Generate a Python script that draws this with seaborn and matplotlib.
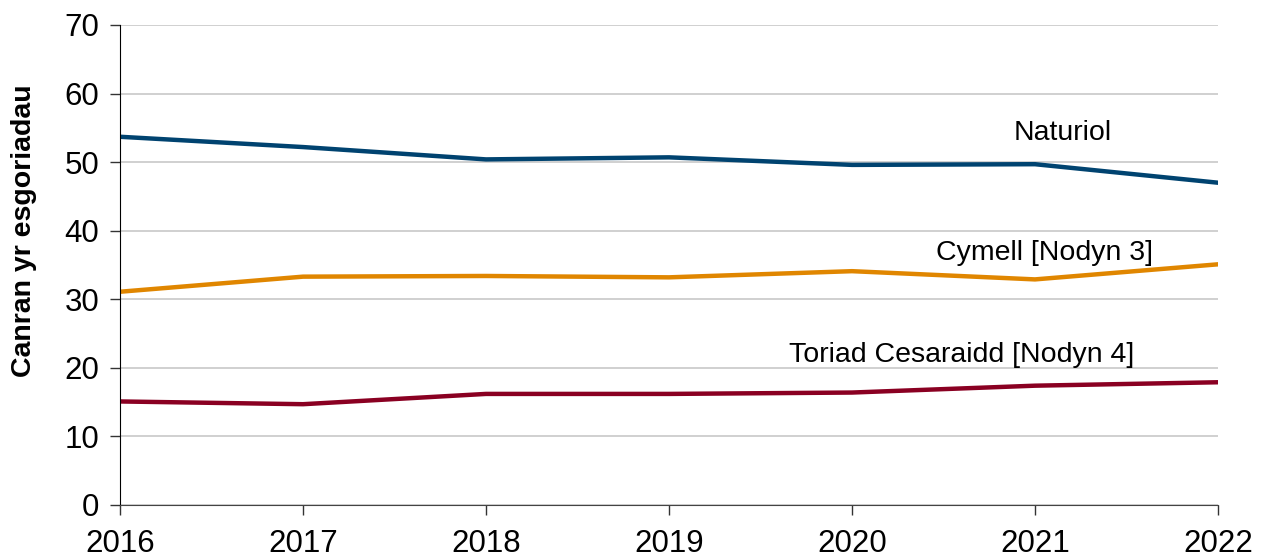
import pandas as pd
import seaborn as sns
import matplotlib.pyplot as plt

years = [2016, 2017, 2018, 2019, 2020, 2021, 2022]
naturiol = [53.7, 52.2, 50.4, 50.7, 49.6, 49.7, 47.0]
cymell = [31.1, 33.3, 33.4, 33.2, 34.1, 32.9, 35.1]
toriad = [15.1, 14.7, 16.2, 16.2, 16.4, 17.4, 17.9]
names = ["Naturiol", "Cymell [Nodyn 3]", "Toriad Cesaraidd [Nodyn 4]"]
colors = ["#004370", "#E08600", "#8A0022"]
# label positions (year, value) as placed on the original chart
label_pos = [(2021.15, 54.2), (2021.05, 36.7), (2020.6, 21.9)]

df = pd.DataFrame({
    "year": years * 3,
    "value": naturiol + cymell + toriad,
    "series": [names[0]] * 7 + [names[1]] * 7 + [names[2]] * 7,
})

sns.set_style("white")
plt.rcParams["font.family"] = ["Liberation Sans", "DejaVu Sans"]
plt.rcParams["text.color"] = "black"

fig = plt.figure(figsize=(12.65, 5.57), dpi=100)
ax = fig.add_axes([120 / 1265, 1 - 505 / 557, 1098 / 1265, 480 / 557])

sns.lineplot(data=df, x="year", y="value", hue="series", palette=colors,
             linewidth=3.2, legend=False, ax=ax)

for name, (x, y) in zip(names, label_pos):
    ax.text(x, y, name, fontsize=20.5, ha="center", va="center", color="black")

ax.set_xlim(2016, 2022)
ax.set_ylim(0, 70)
ax.set_xticks(years)
ax.set_yticks(range(0, 71, 10))
ax.yaxis.grid(True, color="#c8c8c8", linewidth=1.2)
ax.set_axisbelow(True)
ax.tick_params(axis="both", labelsize=22.5, length=7, width=1, color="#333333",
               labelcolor="black", direction="out", left=True, bottom=True)
ax.tick_params(axis="y", pad=8)
ax.tick_params(axis="x", pad=10)
for s in ["top", "right"]:
    ax.spines[s].set_visible(False)
ax.spines["left"].set_color("black")
ax.spines["bottom"].set_color("#444444")
ax.set_xlabel("")
ax.set_ylabel("Canran yr esgoriadau", fontsize=20.5, fontweight="bold", color="black")
ax.yaxis.set_label_coords(-0.0756, 0.571)

fig.savefig("out.png", dpi=100)
